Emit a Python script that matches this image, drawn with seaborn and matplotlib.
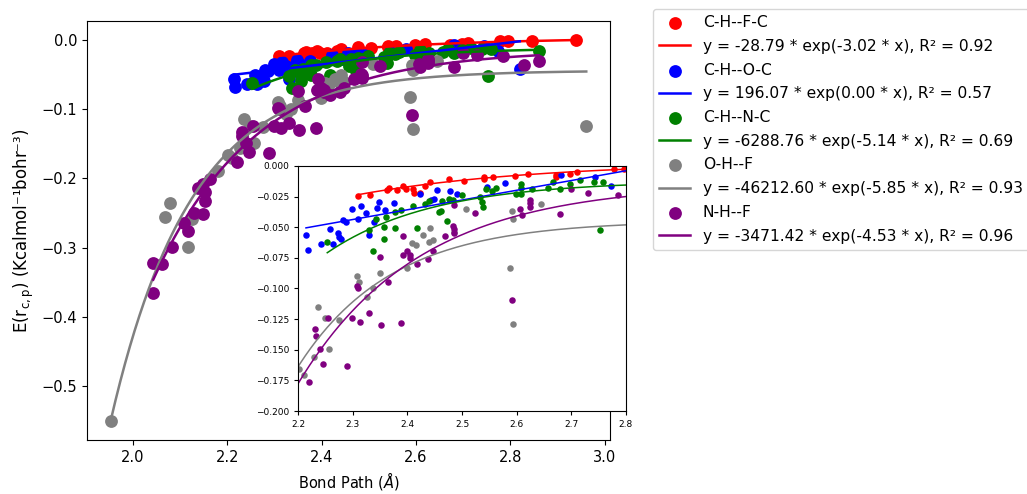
import numpy as np
import pandas as pd
import matplotlib
matplotlib.use("Agg")
import matplotlib.pyplot as plt
import seaborn as sns

# groups and colours
labels = ['C-H--F-C', 'C-H--O-C', 'C-H--N-C', 'O-H--F', 'N-H--F']
colors = ['red', 'blue', 'green', 'gray', 'purple']

# C-H--F-C
chf_x = [2.309, 2.331, 2.362, 2.367, 2.380, 2.391, 2.397, 2.411, 2.412, 2.423,
         2.432, 2.441, 2.477, 2.504, 2.540, 2.541, 2.557, 2.597, 2.620, 2.672,
         2.672, 2.697, 2.711, 2.779, 2.796, 2.846, 2.940]
chf_y = [-0.0242, -0.0236, -0.0196, -0.0177, -0.0196, -0.0160, -0.0190, -0.0190, -0.0223, -0.0223,
         -0.0160, -0.0133, -0.0109, -0.0120, -0.0109, -0.0092, -0.0092, -0.0079, -0.0065, -0.0092,
         -0.0076, -0.0065, -0.0052, -0.0024, -0.0024, -0.0024, -0.0010]

# C-H--O-C
cho_x = [2.214, 2.217, 2.241, 2.258, 2.264, 2.272, 2.275, 2.278, 2.281, 2.287,
         2.299, 2.310, 2.315, 2.324, 2.330, 2.339, 2.345, 2.348, 2.359, 2.375,
         2.423, 2.444, 2.449, 2.455, 2.478, 2.490, 2.545, 2.579, 2.681, 2.744,
         2.773, 2.820]
cho_y = [-0.0560, -0.0685, -0.0636, -0.0511, -0.0636, -0.0549, -0.0576, -0.0598, -0.0440, -0.0454,
         -0.0351, -0.0432, -0.0323, -0.0380, -0.0560, -0.0454, -0.0345, -0.0296, -0.0359, -0.0302,
         -0.0228, -0.0277, -0.0272, -0.0198, -0.0201, -0.0228, -0.0174, -0.0136, -0.0073, -0.0087,
         -0.0163, -0.0430]

# C-H--N-C
chn_x = [2.253, 2.330, 2.337, 2.343, 2.357, 2.357, 2.361, 2.378, 2.378, 2.388,
         2.410, 2.417, 2.433, 2.439, 2.457, 2.461, 2.463, 2.472, 2.477, 2.484,
         2.499, 2.532, 2.537, 2.538, 2.543, 2.555, 2.563, 2.598, 2.608, 2.608,
         2.608, 2.628, 2.657, 2.667, 2.680, 2.698, 2.717, 2.741, 2.758, 2.753,
         2.860]
chn_y = [-0.0622, -0.0522, -0.0698, -0.0435, -0.0500, -0.0595, -0.0418, -0.0503, -0.0372, -0.0359,
         -0.0326, -0.0503, -0.0313, -0.0285, -0.0378, -0.0364, -0.0283, -0.0448, -0.0266, -0.0275,
         -0.0236, -0.0250, -0.0291, -0.0332, -0.0190, -0.0201, -0.0182, -0.0228, -0.0149, -0.0182,
         -0.0228, -0.0190, -0.0182, -0.0128, -0.0190, -0.0149, -0.0114, -0.0128, -0.0128, -0.0522,
         -0.0170]

# O-H--F
ohf_x = [1.953, 2.067, 2.079, 2.117, 2.126, 2.180, 2.201, 2.210, 2.228, 2.236,
         2.249, 2.257, 2.275, 2.307, 2.312, 2.325, 2.336, 2.350, 2.399, 2.408,
         2.416, 2.428, 2.440, 2.441, 2.447, 2.485, 2.508, 2.587, 2.591, 2.593,
         2.594, 2.644, 2.961]
ohf_y = [-0.550, -0.256, -0.235, -0.299, -0.259, -0.190, -0.166, -0.171, -0.156, -0.115,
         -0.124, -0.149, -0.126, -0.090, -0.095, -0.107, -0.100, -0.0875, -0.0834, -0.0630,
         -0.0644, -0.0560, -0.0620, -0.0508, -0.0606, -0.0540, -0.0350, -0.0829, -0.0370, -0.0432,
         -0.1290, -0.0310, -0.1240]

# N-H--F
nhf_x = [2.043, 2.043, 2.062, 2.082, 2.108, 2.116, 2.130, 2.138, 2.149, 2.149,
         2.153, 2.153, 2.163, 2.220, 2.231, 2.232, 2.240, 2.246, 2.254, 2.289,
         2.299, 2.308, 2.310, 2.313, 2.330, 2.350, 2.351, 2.364, 2.388, 2.391,
         2.392, 2.399, 2.404, 2.405, 2.417, 2.438, 2.447, 2.468, 2.484, 2.485,
         2.485, 2.486, 2.523, 2.592, 2.607, 2.609, 2.625, 2.625, 2.625, 2.680,
         2.700, 2.730, 2.785, 2.830, 2.860]
nhf_y = [-0.322, -0.366, -0.323, -0.299, -0.264, -0.276, -0.250, -0.214, -0.251, -0.208,
         -0.220, -0.232, -0.201, -0.176, -0.133, -0.139, -0.149, -0.162, -0.124, -0.163,
         -0.124, -0.098, -0.100, -0.127, -0.120, -0.074, -0.130, -0.095, -0.128, -0.0726,
         -0.0568, -0.0698, -0.0726, -0.0753, -0.0799, -0.0758, -0.0690, -0.0568, -0.0489, -0.0516,
         -0.0549, -0.0318, -0.0380, -0.1092, -0.0353, -0.0399, -0.0277, -0.0304, -0.0332, -0.0391,
         -0.0190, -0.0217, -0.0236, -0.0360, -0.0310]

# fit y = a * exp(b * x) + c
fit_a = [-28.79, 196.07, -6288.76, -46212.60, -3471.42]
fit_b = [-3.02, 0.000405, -5.14, -5.85, -4.53]
fit_c = [0.0035, -196.2964, -0.012, -0.0445, -0.0142]
fit_r2 = [0.92, 0.57, 0.69, 0.93, 0.96]

xs = [chf_x, cho_x, chn_x, ohf_x, nhf_x]
ys = [chf_y, cho_y, chn_y, ohf_y, nhf_y]

fig = plt.figure(figsize=(10.27, 4.94), dpi=100)
ax = fig.add_axes([0.0847, 0.1093, 0.5093, 0.8482])
axin = fig.add_axes([0.2905, 0.168, 0.3188, 0.496])

for i in range(len(labels)):
    df = pd.DataFrame({'x': xs[i], 'y': ys[i]})
    xf = np.linspace(df['x'].min(), df['x'].max(), 300)
    yf = fit_a[i] * np.exp(fit_b[i] * xf) + fit_c[i]
    eq = f'y = {fit_a[i]:.2f} * exp({fit_b[i]:.2f} * x), R\u00b2 = {fit_r2[i]:.2f}'

    sns.scatterplot(data=df, x='x', y='y', color=colors[i], s=85, linewidth=0,
                    label=labels[i], ax=ax)
    ax.plot(xf, yf, color=colors[i], lw=1.8, label=eq)

    sns.scatterplot(data=df, x='x', y='y', color=colors[i], s=22, linewidth=0,
                    legend=False, ax=axin)
    axin.plot(xf, yf, color=colors[i], lw=1.1)

ax.set_xlabel(r'Bond Path ($\AA$)', fontsize=10.5)
ax.set_ylabel('E($\\mathregular{r_{c,p}}$) (Kcalmol\u207b\u00b9bohr\u207b\u00b3)',
              fontsize=12)
ax.tick_params(labelsize=10.5)
ax.legend(loc='upper left', bbox_to_anchor=(653 / 1027, 1 - 9 / 494),
          bbox_transform=fig.transFigure, borderaxespad=0, fontsize=11.2,
          labelspacing=0.56)

axin.set_xlim(2.2, 2.8)
axin.set_ylim(-0.2, 0.0)
axin.set_xticks(np.arange(2.2, 2.81, 0.1))
axin.set_yticks(np.arange(-0.2, 0.001, 0.025))
axin.tick_params(labelsize=6.5, length=3)
axin.set_xlabel('')
axin.set_ylabel('')

fig.savefig('out.png', dpi=100)
